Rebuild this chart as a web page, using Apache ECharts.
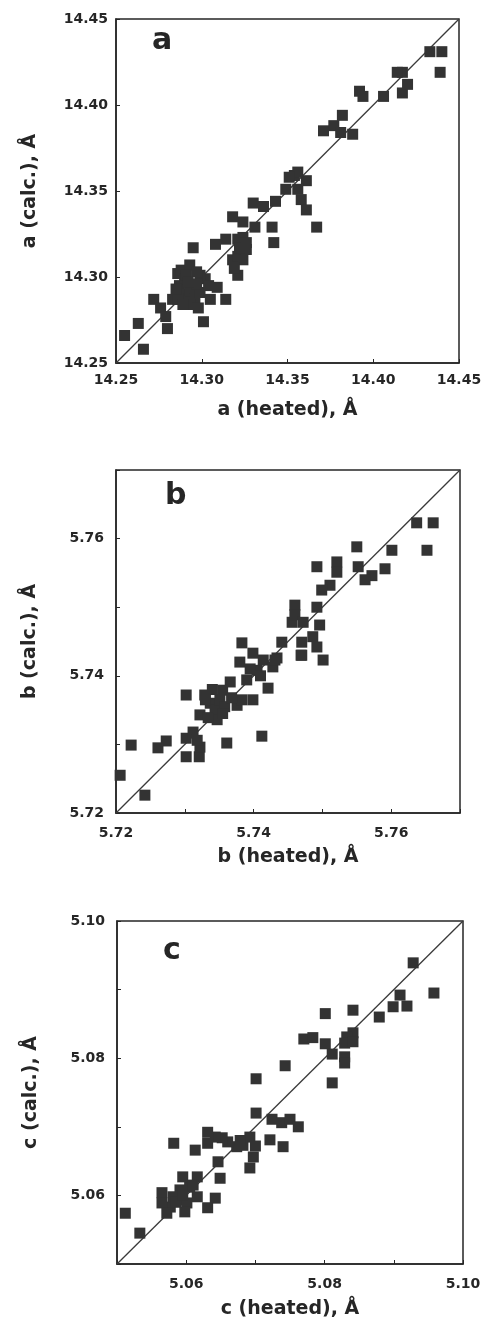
<!DOCTYPE html>
<html>
<head>
<meta charset="utf-8">
<script src="https://cdn.jsdelivr.net/npm/echarts@6/dist/echarts.min.js"></script>
<style>
html,body{margin:0;padding:0;background:#fff;}
#chart{width:490px;height:1332px;}
</style>
</head>
<body>
<div id="chart"></div>
<script>
// ---- Data (heated vs calc) ----
const aHeated = [14.255,14.263,14.266,14.272,14.276,14.279,14.280,14.283,14.286,14.288,14.293,14.295,14.287,14.290,14.293,14.296,14.299,14.302,14.299,14.290,14.286,14.293,14.298,14.305,14.301,14.304,14.309,14.314,14.308,14.314,14.318,14.324,14.321,14.324,14.318,14.321,14.324,14.326,14.321,14.331,14.330,14.336,14.343,14.341,14.342,14.349,14.354,14.361,14.358,14.361,14.367,14.356,14.351,14.356,14.371,14.377,14.382,14.381,14.388,14.392,14.394,14.406,14.417,14.414,14.417,14.420,14.433,14.440,14.439,14.289,14.297,14.291,14.297,14.285,14.292,14.322,14.319,14.326];
const aCalc   = [14.266,14.273,14.258,14.287,14.282,14.277,14.270,14.287,14.302,14.304,14.307,14.317,14.295,14.290,14.292,14.287,14.291,14.299,14.301,14.299,14.287,14.284,14.282,14.287,14.274,14.295,14.294,14.287,14.319,14.322,14.335,14.332,14.322,14.323,14.310,14.312,14.310,14.316,14.301,14.329,14.343,14.341,14.344,14.329,14.320,14.351,14.359,14.356,14.345,14.339,14.329,14.361,14.358,14.351,14.385,14.388,14.394,14.384,14.383,14.408,14.405,14.405,14.419,14.419,14.407,14.412,14.431,14.431,14.419,14.284,14.296,14.301,14.303,14.293,14.297,14.317,14.305,14.320];

const bHeated = [5.7206,5.7242,5.7222,5.7261,5.7273,5.7302,5.7312,5.7302,5.7321,5.7322,5.7318,5.7361,5.7412,5.7302,5.7322,5.7329,5.7337,5.7344,5.7351,5.7358,5.7366,5.7355,5.7376,5.7383,5.7347,5.7334,5.7380,5.7383,5.7390,5.7399,5.7399,5.7405,5.7414,5.7421,5.7428,5.7434,5.7441,5.7456,5.7470,5.7637,5.7661,5.7652,5.7601,5.7550,5.7591,5.7572,5.7562,5.7552,5.7521,5.7521,5.7492,5.7511,5.7499,5.7460,5.7460,5.7472,5.7492,5.7496,5.7486,5.7492,5.7469,5.7501,5.7431,5.7470,5.7330,5.7355,5.7340,5.7395,5.7410,5.7368];
const bCalc   = [5.7255,5.7226,5.7299,5.7295,5.7305,5.7309,5.7318,5.7282,5.7282,5.7296,5.7306,5.7302,5.7312,5.7372,5.7343,5.7372,5.7360,5.7350,5.7365,5.7355,5.7391,5.7379,5.7357,5.7365,5.7336,5.7339,5.7420,5.7448,5.7394,5.7433,5.7365,5.7408,5.7423,5.7382,5.7413,5.7426,5.7449,5.7478,5.7430,5.7623,5.7623,5.7583,5.7583,5.7588,5.7556,5.7546,5.7540,5.7559,5.7566,5.7551,5.7559,5.7532,5.7525,5.7503,5.7489,5.7478,5.7500,5.7474,5.7457,5.7442,5.7430,5.7423,5.7423,5.7449,5.7365,5.7345,5.7380,5.7410,5.7400,5.7368];

const cHeated = [5.0928,5.0958,5.0909,5.0899,5.0919,5.0879,5.0841,5.0801,5.0841,5.0832,5.0829,5.0841,5.0770,5.0783,5.0801,5.0811,5.0829,5.0829,5.0743,5.0701,5.0811,5.0701,5.0724,5.0738,5.0750,5.0762,5.0721,5.0740,5.0692,5.0682,5.0697,5.0692,5.0673,5.0660,5.0652,5.0642,5.0631,5.0631,5.0613,5.0582,5.0646,5.0649,5.0642,5.0631,5.0616,5.0605,5.0595,5.0591,5.0587,5.0577,5.0565,5.0565,5.0572,5.0601,5.0616,5.0512,5.0533,5.0598,5.0581,5.0585,5.0595,5.0610,5.0678,5.0700];
const cCalc   = [5.0939,5.0895,5.0892,5.0875,5.0876,5.0860,5.0870,5.0865,5.0837,5.0831,5.0822,5.0824,5.0828,5.0830,5.0821,5.0806,5.0802,5.0793,5.0789,5.0770,5.0764,5.0720,5.0711,5.0706,5.0711,5.0700,5.0681,5.0671,5.0685,5.0673,5.0656,5.0640,5.0671,5.0678,5.0684,5.0685,5.0692,5.0676,5.0666,5.0676,5.0649,5.0625,5.0596,5.0582,5.0627,5.0612,5.0627,5.0608,5.0593,5.0583,5.0604,5.0589,5.0574,5.0589,5.0598,5.0574,5.0545,5.0576,5.0598,5.0590,5.0600,5.0615,5.0680,5.0672];

// axis ranges [min, max, interval]
const aRange = [14.25, 14.45, 0.05];
const bRange = [5.72, 5.77, 0.01];
const cRange = [5.05, 5.10, 0.01];

const panelLetters = ['a', 'b', 'c'];
const xNames = ['a (heated), Å', 'b (heated), Å', 'c (heated), Å'];
const yNames = ['a (calc.), Å', 'b (calc.), Å', 'c (calc.), Å'];

// ---- Chart ----
const ink = '#262626';
const font = 'DejaVu Sans';
const grids = [
  {left:116, top:19,  width:343, height:344},
  {left:116, top:470, width:344, height:343},
  {left:117, top:921, width:346, height:343}
];
const ranges = [aRange, bRange, cRange];
const xLabelMargin = [10, 13, 13];
const yLabelMargin = [8, 12, 12];
const xNameGap = [38, 35, 36];

function fmtAll(v){ return v.toFixed(2); }
function fmtEven(v){ return Math.round(v*100) % 2 === 0 ? v.toFixed(2) : ''; }

function axis(i, isX){
  const r = ranges[i];
  return {
    type:'value', gridIndex:i, min:r[0], max:r[1], interval:r[2],
    name: isX ? xNames[i] : yNames[i],
    nameLocation:'middle',
    nameGap: isX ? xNameGap[i] : 76,
    nameTextStyle:{fontFamily:font, fontSize:19, fontWeight:'bold', color:ink},
    axisLine:{show:true, lineStyle:{color:ink, width:1.5}},
    axisTick:{show:true, inside:true, length:4, lineStyle:{color:ink, width:1}},
    splitLine:{show:false},
    axisLabel:{
      formatter: i === 0 ? fmtAll : fmtEven,
      margin: isX ? xLabelMargin[i] : yLabelMargin[i],
      fontFamily:font, fontSize:14, fontWeight:'bold', color:ink,
      showMinLabel:true, showMaxLabel:true, hideOverlap:false
    }
  };
}

const xs = [aHeated, bHeated, cHeated];
const ys = [aCalc, bCalc, cCalc];
const series = [];
for (let i = 0; i < 3; i++){
  series.push({
    type:'line', xAxisIndex:i, yAxisIndex:i, symbol:'none', silent:true,
    data:[[ranges[i][0], ranges[i][0]], [ranges[i][1], ranges[i][1]]],
    lineStyle:{color:'#3a3a3a', width:1.3}, z:1
  });
  series.push({
    type:'scatter', xAxisIndex:i, yAxisIndex:i, symbol:'rect', symbolSize:11,
    itemStyle:{color:'#333333', opacity:1},
    data: xs[i].map((x, k) => [x, ys[i][k]]), z:2
  });
}

const chart = echarts.init(document.getElementById('chart'), null, {renderer:'canvas'});
chart.setOption({
  backgroundColor:'#ffffff',
  animation:false,
  grid: grids.map(g => Object.assign({show:true, borderColor:ink, borderWidth:1.5, containLabel:false}, g)),
  xAxis:[0,1,2].map(i => axis(i, true)),
  yAxis:[0,1,2].map(i => axis(i, false)),
  series: series,
  graphic:[
    {type:'text', left:152, top:26, style:{text:panelLetters[0], font:'bold 30px "DejaVu Sans"', fill:ink}},
    {type:'text', left:165, top:481, style:{text:panelLetters[1], font:'bold 30px "DejaVu Sans"', fill:ink}},
    {type:'text', left:163, top:936, style:{text:panelLetters[2], font:'bold 30px "DejaVu Sans"', fill:ink}}
  ]
});
</script>
</body>
</html>
